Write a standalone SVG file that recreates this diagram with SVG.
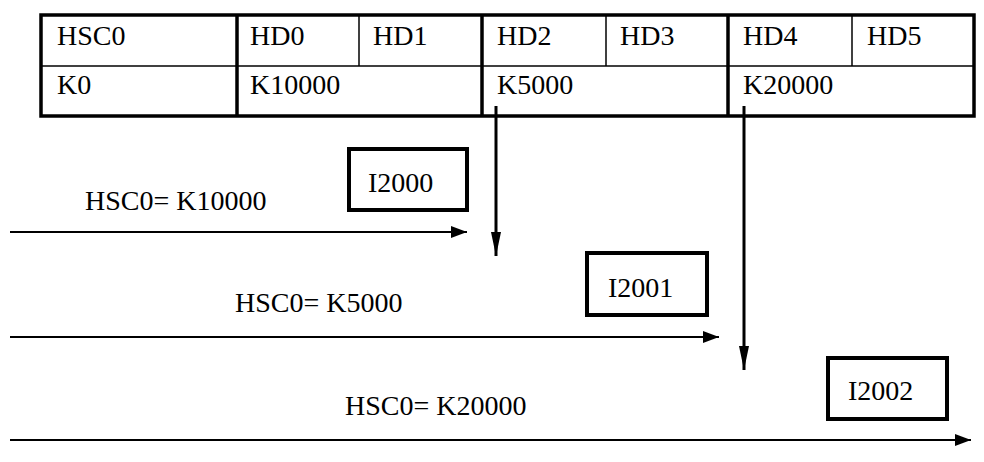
<svg xmlns="http://www.w3.org/2000/svg" width="984" height="462" viewBox="0 0 984 462">
<style>
.thick{stroke:#000;stroke-width:3.5;fill:none}
.thin{stroke:#000;stroke-width:1.5;fill:none}
.box{stroke:#000;stroke-width:4;fill:#fff}
.h{stroke:#000;stroke-width:2;fill:none}
.v{stroke:#000;stroke-width:3;fill:none}
</style>
<defs>
<marker id="ah" markerWidth="16" markerHeight="12" refX="16" refY="6" orient="auto" markerUnits="userSpaceOnUse"><path d="M0,0 L16,6 L0,12 Z" fill="#000"/></marker>
<marker id="av" markerWidth="24" markerHeight="10" refX="24" refY="5" orient="auto" markerUnits="userSpaceOnUse"><path d="M0,0 L24,5 L0,10 Z" fill="#000"/></marker>
</defs>
<g id="table">
<rect x="41" y="15" width="933" height="101" class="thick"/>
<line x1="41" y1="66" x2="974" y2="66" class="thin"/>
<line x1="237" y1="15" x2="237" y2="116" class="thick"/>
<line x1="482" y1="15" x2="482" y2="116" class="thick"/>
<line x1="728" y1="15" x2="728" y2="116" class="thick"/>
<line x1="359" y1="15" x2="359" y2="66" class="thin"/>
<line x1="606" y1="15" x2="606" y2="66" class="thin"/>
<line x1="852" y1="15" x2="852" y2="66" class="thin"/>
<text x="57" y="45" font-family="Liberation Serif" font-size="28">HSC0</text>
<text x="250" y="45" font-family="Liberation Serif" font-size="28">HD0</text>
<text x="373" y="45" font-family="Liberation Serif" font-size="28">HD1</text>
<text x="497" y="45" font-family="Liberation Serif" font-size="28">HD2</text>
<text x="620" y="45" font-family="Liberation Serif" font-size="28">HD3</text>
<text x="743" y="45" font-family="Liberation Serif" font-size="28">HD4</text>
<text x="867" y="45" font-family="Liberation Serif" font-size="28">HD5</text>
<text x="57" y="94" font-family="Liberation Serif" font-size="28">K0</text>
<text x="250" y="94" font-family="Liberation Serif" font-size="28">K10000</text>
<text x="497" y="94" font-family="Liberation Serif" font-size="28">K5000</text>
<text x="743" y="94" font-family="Liberation Serif" font-size="28">K20000</text>
</g>
<g id="connectors">
<line x1="496" y1="106" x2="496" y2="256" class="v" marker-end="url(#av)"/>
<line x1="744" y1="106" x2="744" y2="370" class="v" marker-end="url(#av)"/>
<line x1="10" y1="232" x2="467" y2="232" class="h" marker-end="url(#ah)"/>
<line x1="10" y1="337" x2="719" y2="337" class="h" marker-end="url(#ah)"/>
<line x1="10" y1="440" x2="971" y2="440" class="h" marker-end="url(#ah)"/>
</g>
<g id="label1"><text x="85" y="210" font-family="Liberation Serif" font-size="28">HSC0= K10000</text></g>
<g id="label2"><text x="235" y="312" font-family="Liberation Serif" font-size="28">HSC0= K5000</text></g>
<g id="label3"><text x="345" y="415" font-family="Liberation Serif" font-size="28">HSC0= K20000</text></g>
<g id="I2000"><rect x="349" y="149" width="118" height="61" class="box"/><text x="368" y="192" font-family="Liberation Serif" font-size="28">I2000</text></g>
<g id="I2001"><rect x="587" y="253" width="120" height="62" class="box"/><text x="608" y="297" font-family="Liberation Serif" font-size="28">I2001</text></g>
<g id="I2002"><rect x="828" y="358" width="119" height="61" class="box"/><text x="848" y="400" font-family="Liberation Serif" font-size="28">I2002</text></g>
</svg>
